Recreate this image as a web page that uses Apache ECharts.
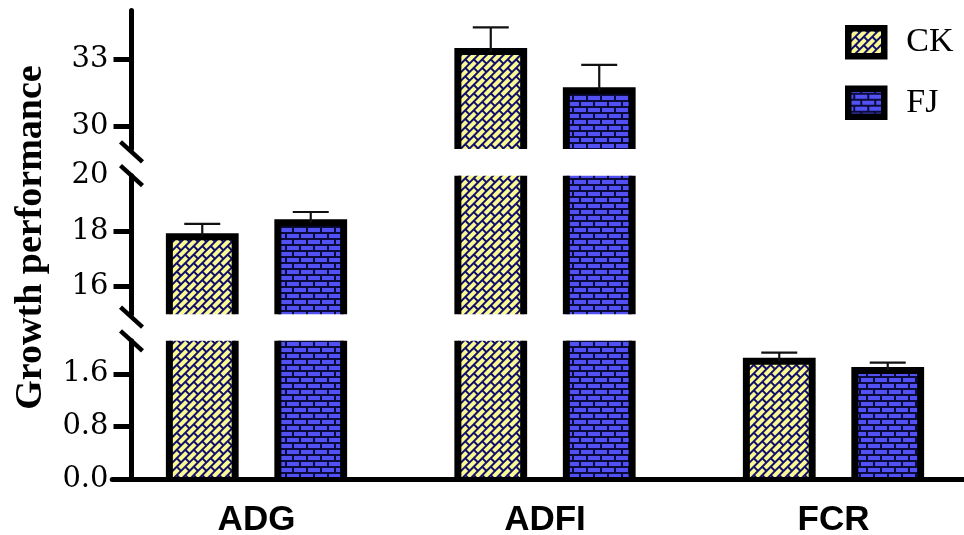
<!DOCTYPE html>
<html>
<head>
<meta charset="utf-8">
<script src="https://cdn.jsdelivr.net/npm/echarts@6/dist/echarts.min.js"></script>
<style>
html,body{margin:0;padding:0;background:#fff;}
#chart{width:964px;height:535px;}
</style>
</head>
<body>
<div id="chart"></div>
<script>
// ---------- data ----------
const categories = ['ADG', 'ADFI', 'FCR'];
const seriesNames = ['CK', 'FJ'];
const ckMean = [17.80, 33.36, 1.79];
const ckSD   = [0.46, 1.08, 0.13];
const fjMean = [18.30, 31.60, 1.65];
const fjSD   = [0.39, 1.16, 0.12];
// broken y axis: three segments, top to bottom
const segMin = [29, 15, 0];
const segMax = [35.2, 20, 2.1];
const segTicks  = [[30, 33], [16, 18], [0, 0.8, 1.6]];
const segLabels = [[30, 33], [16, 18, 20], [0, 0.8, 1.6]];
const yTitle = 'Growth performance';

// ---------- layout / style ----------
const GRID_LEFT = 112.25, GRID_RIGHT = -13.75;
const GRID_TOPS = [10.4, 175.7, 340.8];
const GRID_H = 138.5;
const AXIS_SHIFT = 19.25;
const BAR_OFFSET = 0.188, BAR_HALF = 0.114, BORDER = 7, CAP_HALF = 18;

function brickCanvas(fg, bg, brickL, brickH, gap) {
  const W = brickL + gap, R = brickH + gap;
  const c = document.createElement('canvas');
  c.width = W; c.height = 2 * R;
  const g = c.getContext('2d');
  g.fillStyle = bg; g.fillRect(0, 0, W, 2 * R);
  g.fillStyle = fg;
  g.fillRect(0, 0, brickL, brickH);
  g.fillRect(W / 2, R, brickL, brickH);
  g.fillRect(W / 2 - W, R, brickL, brickH);
  return c;
}
const ckFill = { image: brickCanvas('#fbf994', '#10106a', 10, 4, 2), repeat: 'repeat', rotation: -Math.PI / 4 };
const fjFill = { image: brickCanvas('#5252f4', '#0c0c3c', 12, 4, 2), repeat: 'repeat' };
const fills = [ckFill, fjFill];

function barRenderer(sIdx) {
  return function (params, api) {
    const cs = params.coordSys;
    const cat = api.value(0), val = api.value(1), sd = api.value(2);
    const band = api.size([1, 0])[0];
    const p = api.coord([cat, val]);
    const cx = p[0] + (sIdx === 0 ? -1 : 1) * band * BAR_OFFSET;
    const hw = band * BAR_HALF;
    const top = cs.y, bot = cs.y + cs.height;
    if (p[1] >= bot) return null;
    const cut = p[1] < top;
    const yTop = cut ? top : p[1];
    const children = [{
      type: 'rect',
      shape: { x: cx - hw, y: yTop, width: 2 * hw, height: bot - yTop },
      style: { fill: fills[sIdx] }
    }];
    const lineStyle = { stroke: '#000', lineWidth: BORDER, fill: 'none' };
    if (cut) {
      children.push({ type: 'line', shape: { x1: cx - hw, y1: yTop, x2: cx - hw, y2: bot }, style: lineStyle });
      children.push({ type: 'line', shape: { x1: cx + hw, y1: yTop, x2: cx + hw, y2: bot }, style: lineStyle });
    } else {
      children.push({
        type: 'polyline',
        shape: { points: [[cx - hw, bot], [cx - hw, yTop], [cx + hw, yTop], [cx + hw, bot]] },
        style: Object.assign({ lineJoin: 'miter' }, lineStyle)
      });
      const e = api.coord([cat, val + sd]);
      const es = { stroke: '#111', lineWidth: 2.2, fill: 'none' };
      children.push({ type: 'line', shape: { x1: cx, y1: yTop, x2: cx, y2: e[1] }, style: es });
      children.push({ type: 'line', shape: { x1: cx - CAP_HALF, y1: e[1], x2: cx + CAP_HALF, y2: e[1] }, style: es });
    }
    return { type: 'group', children: children };
  };
}

function breakRenderer(k) {
  return function (params, api) {
    const cs = params.coordSys;
    const ax = cs.x + AXIS_SHIFT;
    const ys = [];
    if (k > 0) ys.push(cs.y);
    if (k < 2) ys.push(cs.y + cs.height + 3);
    return {
      type: 'group',
      children: ys.map(function (y) {
        return { type: 'line', shape: { x1: ax - 11, y1: y - 10, x2: ax + 11, y2: y + 10 },
                 style: { stroke: '#000', lineWidth: 4.5 } };
      })
    };
  };
}

const grids = [], xAxes = [], yAxes = [], series = [];
for (let k = 0; k < 3; k++) {
  grids.push({ left: GRID_LEFT, right: GRID_RIGHT, top: GRID_TOPS[k], height: GRID_H, outerBoundsMode: 'none', containLabel: false });
  xAxes.push({
    gridIndex: k, type: 'category', data: categories, show: k === 2, z: 5,
    axisLine: { show: true, onZero: false, lineStyle: { color: '#000', width: 5 } },
    axisTick: { show: false },
    axisLabel: { fontFamily: 'Liberation Sans', fontWeight: 'bold', fontSize: 35, color: '#000', margin: 23.5 },
    splitLine: { show: false }
  });
  yAxes.push({
    gridIndex: k, type: 'value', min: segMin[k], max: segMax[k], offset: -AXIS_SHIFT, z: 5,
    axisLine: { show: true, lineStyle: { color: '#000', width: 5 } },
    axisTick: { show: true, length: 18, customValues: segTicks[k], lineStyle: { color: '#000', width: 5 } },
    axisLabel: {
      customValues: segLabels[k], margin: 23,
      formatter: k === 2 ? function (v) { return Number(v).toFixed(1); } : function (v) { return String(v); },
      fontFamily: 'DejaVu Serif', fontSize: 29, color: '#000', padding: [14, 0, 0, 0]
    },
    splitLine: { show: false }
  });
  [ckMean, fjMean].forEach(function (means, s) {
    const sds = s === 0 ? ckSD : fjSD;
    series.push({
      type: 'custom', name: seriesNames[s], xAxisIndex: k, yAxisIndex: k,
      dimensions: ['cat', 'mean', 'sd'], encode: { x: 'cat', y: 'mean' },
      data: categories.map(function (c, i) { return [c, means[i], sds[i]]; }),
      renderItem: barRenderer(s), silent: true
    });
  });
  series.push({
    type: 'custom', xAxisIndex: k, yAxisIndex: k, z: 10, silent: true,
    data: [[categories[0], segMin[k]]], renderItem: breakRenderer(k)
  });
}

const chart = echarts.init(document.getElementById('chart'), null, { renderer: 'canvas' });
chart.setOption({
  animation: false,
  backgroundColor: '#fff',
  grid: grids, xAxis: xAxes, yAxis: yAxes, series: series,
  legend: {
    orient: 'vertical', left: 845, top: 25, padding: 0, itemWidth: 36, itemHeight: 28, itemGap: 26,
    selectedMode: false,
    data: [
      { name: 'CK', icon: 'rect', itemStyle: { color: ckFill, borderColor: '#000', borderWidth: 6.5 } },
      { name: 'FJ', icon: 'rect', itemStyle: { color: fjFill, borderColor: '#000', borderWidth: 6.5 } }
    ],
    textStyle: { fontFamily: 'Liberation Serif', fontSize: 34, color: '#000', lineHeight: 28, padding: [0, 0, 0, 17] }
  },
  graphic: [{
    type: 'text', x: 31, y: 237.5, rotation: Math.PI / 2,
    style: { text: yTitle, fontFamily: 'Liberation Serif', fontWeight: 'bold', fontSize: 38, fill: '#000', align: 'center', verticalAlign: 'middle' }
  }]
});
</script>
</body>
</html>
